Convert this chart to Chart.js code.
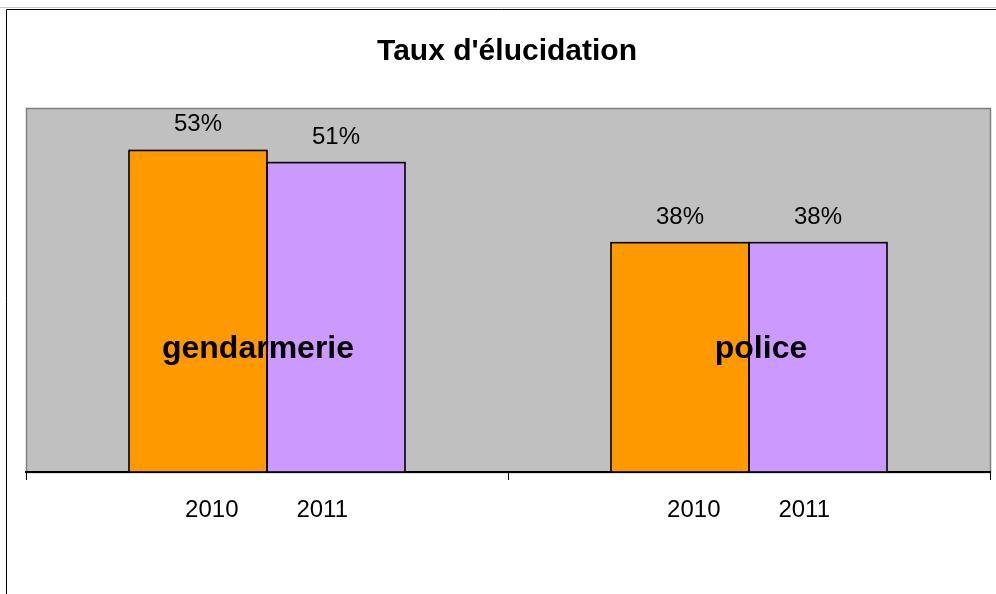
<!DOCTYPE html>
<html>
<head>
<meta charset="utf-8">
<script src="https://cdn.jsdelivr.net/npm/chart.js@4"></script>
<style>
  html, body { margin:0; padding:0; background:#fff; }
  #wrap { width:996px; height:594px; }
</style>
</head>
<body>
<div id="wrap"><canvas id="chart" width="996" height="594"></canvas></div>
<script>
// data
var categories = ["gendarmerie", "police"];
var years = ["2010", "2011"];
var values2010 = [53, 37.8];
var values2011 = [51, 37.8];
var chartTitle = "Taux d'élucidation";

var FONT = "Arial, 'Liberation Sans', sans-serif";

// ---------------------------
// frame, plot background and texts
// ---------------------------
var decorPlugin = {
    id: "decor",
    beforeDraw: function(chart){
        var ctx = chart.ctx;
        var a = chart.chartArea;
        ctx.save();
        // outer frame
        ctx.strokeStyle = "#c8c8c8";
        ctx.lineWidth = 1;
        ctx.beginPath();
        ctx.moveTo(0, 7.5); ctx.lineTo(996, 7.5);
        ctx.stroke();
        ctx.strokeStyle = "#000";
        ctx.beginPath();
        ctx.moveTo(6.5, 594); ctx.lineTo(6.5, 9.5); ctx.lineTo(996, 9.5);
        ctx.stroke();
        // plot area
        ctx.fillStyle = "#c0c0c0";
        ctx.fillRect(a.left, a.top, a.right - a.left, a.bottom - a.top);
        ctx.strokeStyle = "#808080";
        ctx.lineWidth = 1.5;
        ctx.strokeRect(a.left + 0.5, a.top + 0.5, a.right - a.left, a.bottom - a.top);
        ctx.restore();
    },
    afterDatasetsDraw: function(chart){
        var ctx = chart.ctx;
        var xScale = chart.scales.x;
        ctx.save();

        // bar outlines, one shared line between touching bars
        ctx.strokeStyle = "#000";
        ctx.lineWidth = 1.6;
        chart.data.datasets.forEach(function(ds, di){
            chart.getDatasetMeta(di).data.forEach(function(bar){
                var p = bar.getProps(["x", "y", "base", "width"], true);
                ctx.strokeRect(p.x - p.width / 2, p.y, p.width, p.base - p.y);
            });
        });

        ctx.fillStyle = "#000";
        ctx.textAlign = "center";
        ctx.textBaseline = "alphabetic";

        // title
        ctx.font = "bold 30px " + FONT;
        ctx.fillText(chartTitle, 507, 60);

        // value labels and year labels
        chart.data.datasets.forEach(function(ds, di){
            var meta = chart.getDatasetMeta(di);
            meta.data.forEach(function(bar, i){
                var cx = xScale.getPixelForValue(i);
                ctx.font = "24px " + FONT;
                ctx.fillText(Math.round(ds.data[i]) + "%", bar.x, bar.y - 19);
                ctx.fillText(ds.label, cx + (bar.x - cx) * 0.8, chart.chartArea.bottom + 45);
            });
        });

        // category names across the bars (slightly off-centre as in the original)
        var shift = [-9, 12];
        ctx.font = "bold 32px " + FONT;
        categories.forEach(function(c, i){
            ctx.fillText(c, xScale.getPixelForValue(i) + shift[i], 358);
        });
        ctx.restore();
    }
};

new Chart(document.getElementById("chart"), {

    type: "bar",

    data: {
        labels: categories,
        datasets: [
            {
                label: years[0],
                data: values2010,
                backgroundColor: "#ff9900",
                borderWidth: 0
            },
            {
                label: years[1],
                data: values2011,
                backgroundColor: "#cc99ff",
                borderWidth: 0
            }
        ]
    },

    options: {
        responsive: false,
        animation: false,
        devicePixelRatio: 1,
        layout: {
            padding: { left: 26, right: 6, top: 108, bottom: 114 }
        },
        datasets: {
            bar: {
                categoryPercentage: 276 / 482,
                barPercentage: 1
            }
        },
        scales: {
            x: {
                grid: {
                    offset: true,
                    drawOnChartArea: false,
                    drawTicks: true,
                    tickLength: 8,
                    color: "#000",
                    lineWidth: 1
                },
                border: { color: "#000", width: 2 },
                ticks: { display: false }
            },
            y: {
                display: false,
                min: 0,
                max: 60
            }
        },
        plugins: {
            legend: { display: false },
            title: { display: false },
            tooltip: { enabled: false }
        }
    },

    plugins: [decorPlugin]

});
</script>
</body>
</html>
